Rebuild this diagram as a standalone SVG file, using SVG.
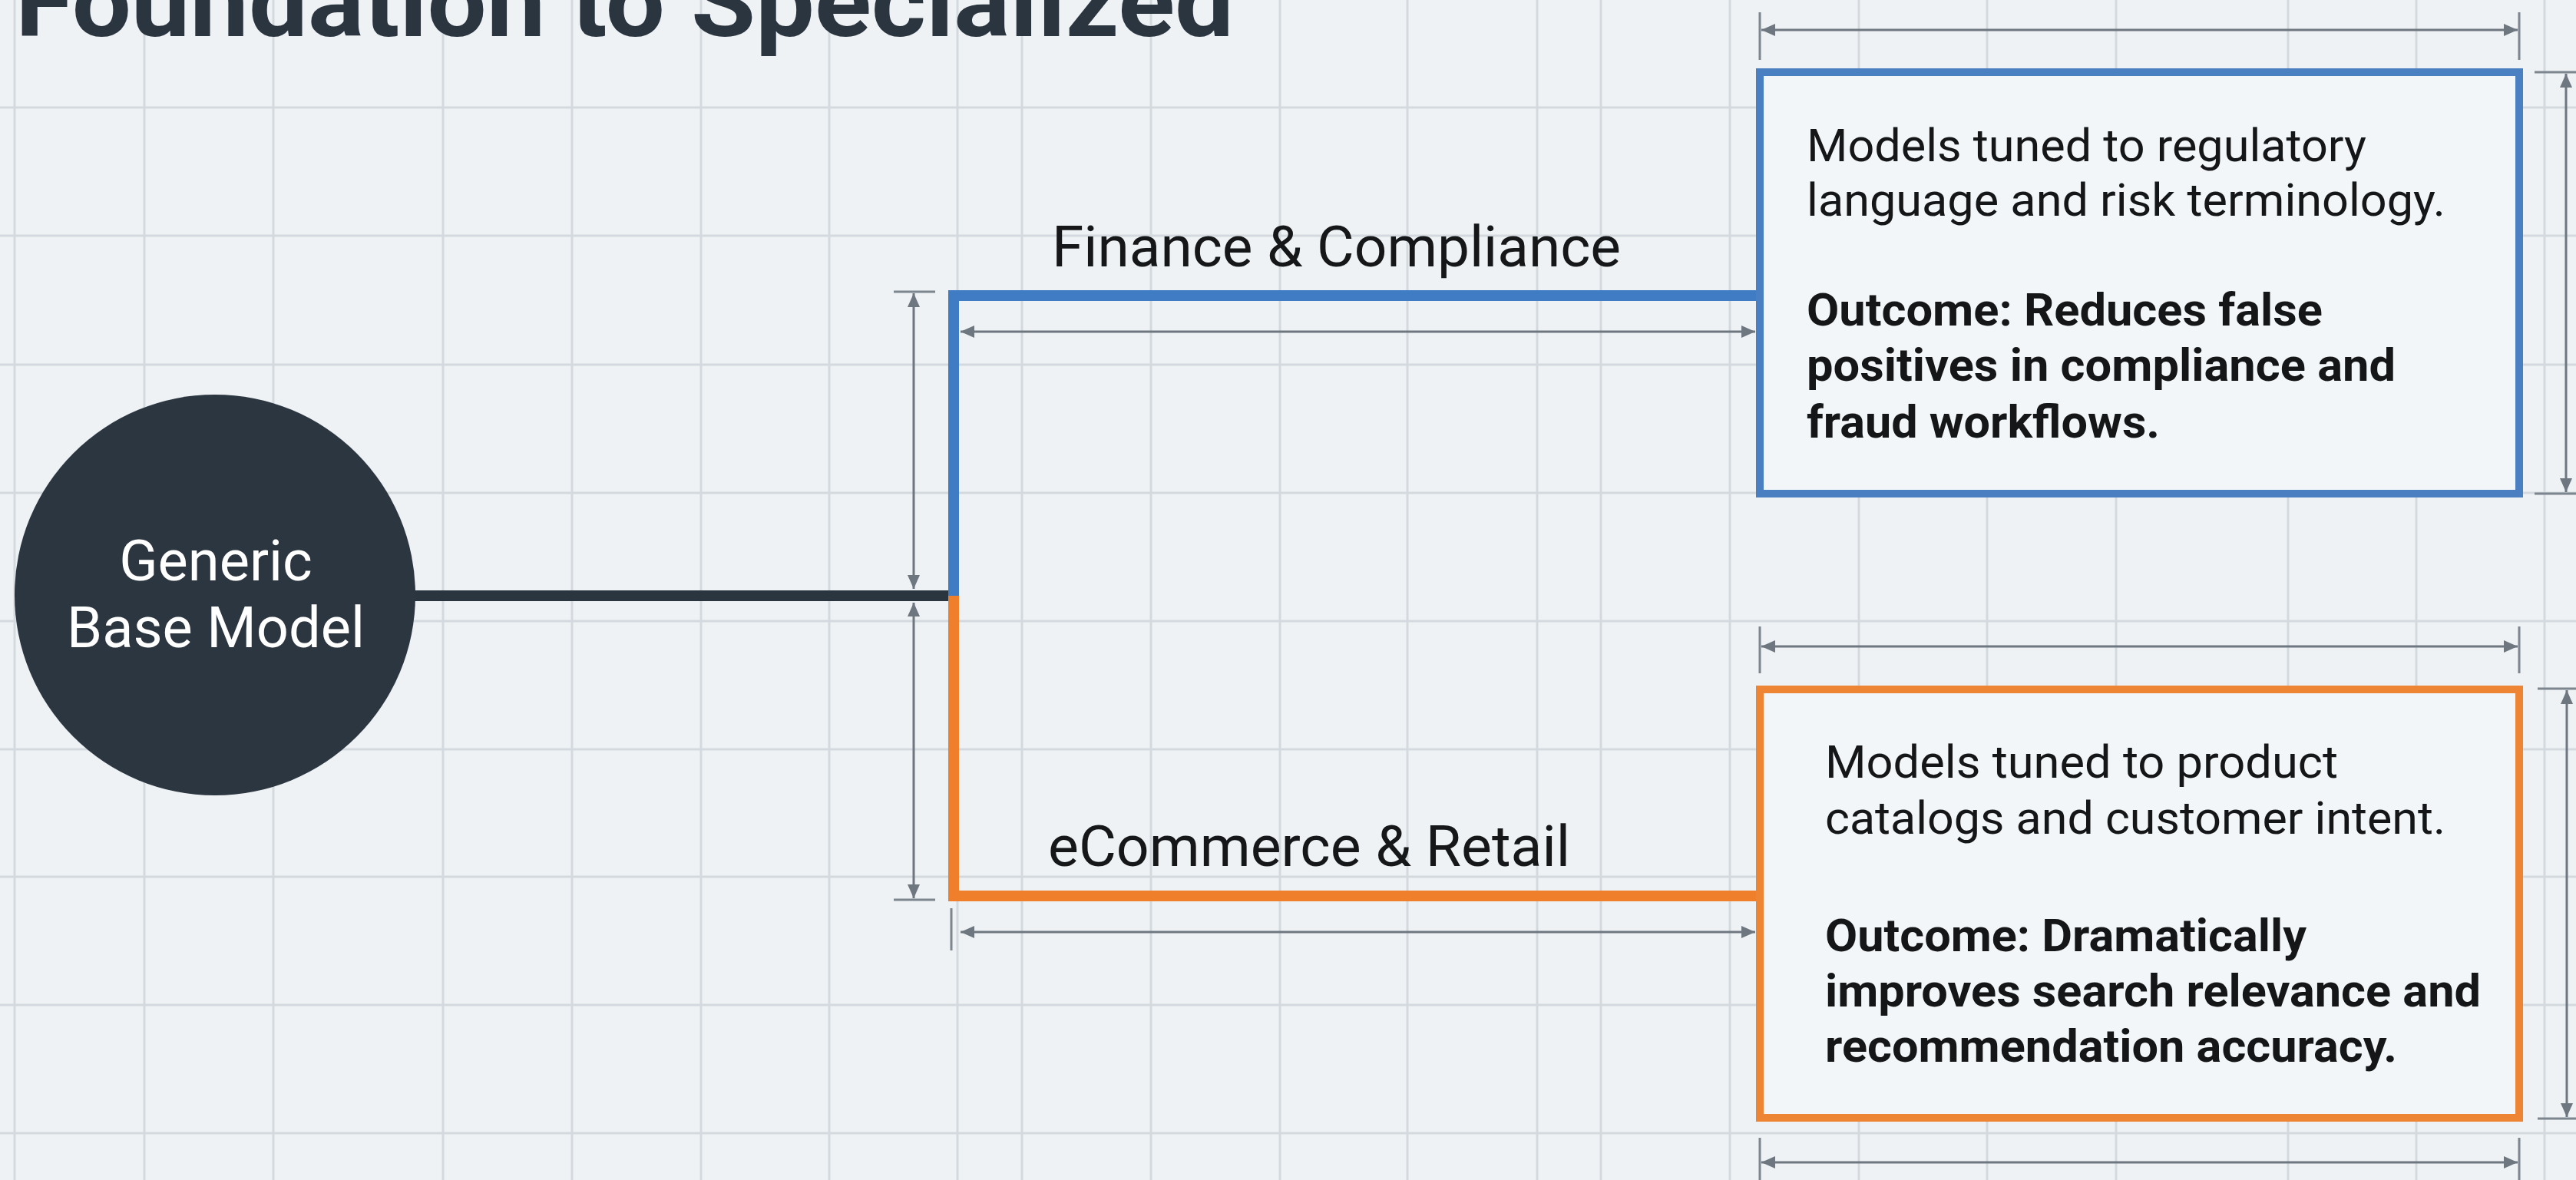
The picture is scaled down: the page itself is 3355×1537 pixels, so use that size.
<svg xmlns="http://www.w3.org/2000/svg" width="3355" height="1537" viewBox="0 0 3355 1537">
  <style>
    .grid line { stroke: #d3d9de; stroke-width: 3; }
    .dim { stroke: #6e7780; stroke-width: 3; fill: none; }
    .ext { stroke: #7d868e; stroke-width: 3; fill: none; }
    .arrowed { marker-start: url(#arr); marker-end: url(#arr); }
    .title { font-family: Roboto, "Liberation Sans", sans-serif; font-weight: 700; font-size: 128px; fill: #2b3540; }
    .label { font-family: Roboto, "Liberation Sans", sans-serif; font-size: 75px; fill: #151719; }
    .node-text { font-family: Roboto, "Liberation Sans", sans-serif; font-size: 74px; fill: #ffffff; text-anchor: middle; }
    .body { font-family: Roboto, "Liberation Sans", sans-serif; font-size: 60px; fill: #141618; }
    .bold { font-weight: 700; }
    .box { fill: #f3f6f8; stroke-width: 10; }
  </style>
  <defs>
    <marker id="arr" viewBox="0 0 18 16" refX="18" refY="8" markerWidth="18" markerHeight="16" markerUnits="userSpaceOnUse" orient="auto-start-reverse">
      <path d="M0,0 L18,8 L0,16 Z" fill="#6e7780"/>
    </marker>
  </defs>

  <rect x="0" y="0" width="3355" height="1537" fill="#eef2f4"/>

  <g class="grid">
    <line x1="0" y1="140" x2="3355" y2="140"/>
    <line x1="0" y1="307" x2="3355" y2="307"/>
    <line x1="0" y1="475" x2="3355" y2="475"/>
    <line x1="0" y1="642" x2="3355" y2="642"/>
    <line x1="0" y1="809" x2="3355" y2="809"/>
    <line x1="0" y1="976" x2="3355" y2="976"/>
    <line x1="0" y1="1142" x2="3355" y2="1142"/>
    <line x1="0" y1="1309" x2="3355" y2="1309"/>
    <line x1="0" y1="1476" x2="3355" y2="1476"/>
    <line x1="19" y1="0" x2="19" y2="1537"/>
    <line x1="188" y1="0" x2="188" y2="1537"/>
    <line x1="356" y1="0" x2="356" y2="1537"/>
    <line x1="577" y1="0" x2="577" y2="1537"/>
    <line x1="745" y1="0" x2="745" y2="1537"/>
    <line x1="913" y1="0" x2="913" y2="1537"/>
    <line x1="1080" y1="0" x2="1080" y2="1537"/>
    <line x1="1247" y1="0" x2="1247" y2="1537"/>
    <line x1="1331" y1="0" x2="1331" y2="1537"/>
    <line x1="1499" y1="0" x2="1499" y2="1537"/>
    <line x1="1667" y1="0" x2="1667" y2="1537"/>
    <line x1="1833" y1="0" x2="1833" y2="1537"/>
    <line x1="2002" y1="0" x2="2002" y2="1537"/>
    <line x1="2085" y1="0" x2="2085" y2="1537"/>
    <line x1="2253" y1="0" x2="2253" y2="1537"/>
    <line x1="2421" y1="0" x2="2421" y2="1537"/>
    <line x1="2588" y1="0" x2="2588" y2="1537"/>
    <line x1="2756" y1="0" x2="2756" y2="1537"/>
    <line x1="2980" y1="0" x2="2980" y2="1537"/>
    <line x1="3147" y1="0" x2="3147" y2="1537"/>
    <line x1="3314" y1="0" x2="3314" y2="1537"/>
  </g>

  <text class="title" x="20" y="47" textLength="1587" lengthAdjust="spacingAndGlyphs">Foundation to Specialized</text>

  <g id="connectors">
    <line x1="535" y1="776" x2="1242" y2="776" stroke="#2b3540" stroke-width="14"/>
    <path d="M1242,776 V385 H2292" fill="none" stroke="#3f7cc3" stroke-width="14"/>
    <path d="M1242,776 V1167 H2292" fill="none" stroke="#f07f2c" stroke-width="14"/>
    <text class="label" x="1370" y="347" textLength="741" lengthAdjust="spacingAndGlyphs">Finance &amp; Compliance</text>
    <text class="label" x="1365" y="1128" textLength="680" lengthAdjust="spacingAndGlyphs">eCommerce &amp; Retail</text>
  </g>

  <g id="dimensions">
    <!-- left vertical dimensions -->
    <line class="ext" x1="1164" y1="380" x2="1218" y2="380"/>
    <line class="dim arrowed" x1="1190" y1="382" x2="1190" y2="767"/>
    <line class="dim arrowed" x1="1190" y1="785" x2="1190" y2="1170"/>
    <line class="ext" x1="1164" y1="1172" x2="1218" y2="1172"/>
    <!-- inner horizontal dimensions -->
    <line class="dim arrowed" x1="1251" y1="432" x2="2286" y2="432"/>
    <line class="ext" x1="1239" y1="1183" x2="1239" y2="1238"/>
    <line class="dim arrowed" x1="1251" y1="1214" x2="2286" y2="1214"/>
    <!-- blue box dimensions -->
    <line class="ext" x1="2292" y1="16" x2="2292" y2="78"/>
    <line class="ext" x1="3281" y1="16" x2="3281" y2="78"/>
    <line class="dim arrowed" x1="2294" y1="39" x2="3279" y2="39"/>
    <line class="ext" x1="3301" y1="94" x2="3355" y2="94"/>
    <line class="ext" x1="3301" y1="643" x2="3355" y2="643"/>
    <line class="dim arrowed" x1="3342" y1="96" x2="3342" y2="641"/>
    <!-- orange box dimensions -->
    <line class="ext" x1="2292" y1="816" x2="2292" y2="877"/>
    <line class="ext" x1="3281" y1="816" x2="3281" y2="877"/>
    <line class="dim arrowed" x1="2294" y1="842" x2="3279" y2="842"/>
    <line class="ext" x1="3305" y1="897" x2="3355" y2="897"/>
    <line class="ext" x1="3305" y1="1457" x2="3355" y2="1457"/>
    <line class="dim arrowed" x1="3343" y1="899" x2="3343" y2="1455"/>
    <line class="ext" x1="2292" y1="1482" x2="2292" y2="1537"/>
    <line class="ext" x1="3281" y1="1482" x2="3281" y2="1537"/>
    <line class="dim arrowed" x1="2294" y1="1514" x2="3279" y2="1514"/>
  </g>

  <g id="node-base">
    <circle cx="280" cy="775" r="261" fill="#2c3640"/>
    <text class="node-text" x="281" y="756">Generic</text>
    <text class="node-text" x="281" y="843">Base Model</text>
  </g>

  <g id="node-finance">
    <rect class="box" x="2292" y="94" width="989" height="549" stroke="#4a80c2"/>
    <text class="body" x="2353" y="210" textLength="729" lengthAdjust="spacingAndGlyphs">Models tuned to regulatory</text>
    <text class="body" x="2353" y="281" textLength="832" lengthAdjust="spacingAndGlyphs">language and risk terminology.</text>
    <text class="body bold" x="2353" y="424" textLength="672" lengthAdjust="spacingAndGlyphs">Outcome: Reduces false</text>
    <text class="body bold" x="2353" y="496" textLength="767" lengthAdjust="spacingAndGlyphs">positives in compliance and</text>
    <text class="body bold" x="2353" y="570" textLength="460" lengthAdjust="spacingAndGlyphs">fraud workflows.</text>
  </g>

  <g id="node-ecommerce">
    <rect class="box" x="2292" y="898" width="989" height="558" stroke="#ee8535"/>
    <text class="body" x="2377" y="1013" textLength="668" lengthAdjust="spacingAndGlyphs">Models tuned to product</text>
    <text class="body" x="2377" y="1086" textLength="808" lengthAdjust="spacingAndGlyphs">catalogs and customer intent.</text>
    <text class="body bold" x="2377" y="1239" textLength="627" lengthAdjust="spacingAndGlyphs">Outcome: Dramatically</text>
    <text class="body bold" x="2377" y="1311" textLength="854" lengthAdjust="spacingAndGlyphs">improves search relevance and</text>
    <text class="body bold" x="2377" y="1383" textLength="745" lengthAdjust="spacingAndGlyphs">recommendation accuracy.</text>
  </g>
</svg>
